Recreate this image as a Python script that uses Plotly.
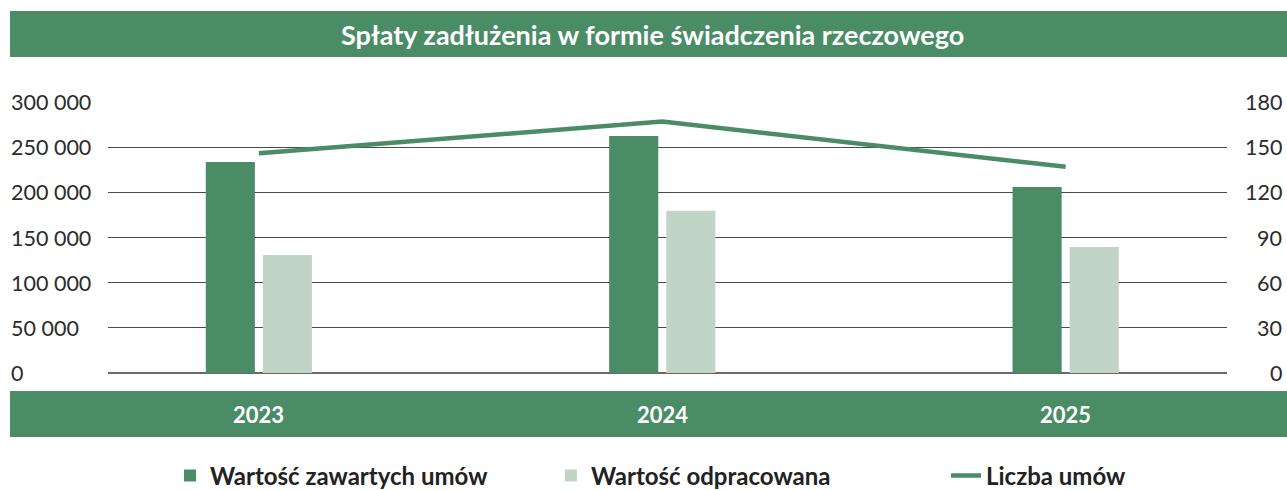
import plotly.graph_objects as go

years = ["2023", "2024", "2025"]
wartosc_zawartych = [233500, 262500, 206000]
wartosc_odpracowana = [130500, 179500, 139500]
liczba_umow = [146, 167, 137]

left_ticks = [0, 50000, 100000, 150000, 200000, 250000, 300000]
left_labels = ["0", "50 000", "100 000", "150 000", "200 000", "250 000", "300 000"]
right_ticks = [0, 30, 60, 90, 120, 150, 180]
right_labels = ["0", "30", "60", "90", "120", "150", "180"]

title_text = "Spłaty zadłużenia w formie świadczenia rzeczowego"

GREEN = "#4a8c66"
LIGHT = "#c2d4c8"
FONT = "Lato"

W, H = 1287, 490
L, R, T, B = 108, 60, 102, 117
pw = W - L - R
ph = H - T - B

def px_x(x):
    return (x - L) / pw

def px_y(y):
    return (H - B - y) / ph

fig = go.Figure()
fig.add_trace(go.Bar(x=years, y=wartosc_zawartych, name="Wartość zawartych umów",
                     marker=dict(color=GREEN, line=dict(width=0)), legend="legend"))
fig.add_trace(go.Bar(x=years, y=wartosc_odpracowana, name="Wartość odpracowana",
                     marker=dict(color=LIGHT, line=dict(width=0)), legend="legend"))
fig.add_trace(go.Scatter(x=years, y=liczba_umow, name="Liczba umów", mode="lines",
                         line=dict(color=GREEN, width=4.5), yaxis="y2", legend="legend2"))

shapes = [
    dict(type="rect", xref="paper", yref="paper", x0=px_x(10), x1=px_x(1295),
         y0=px_y(57), y1=px_y(11), fillcolor=GREEN, line=dict(width=0), layer="below"),
    dict(type="rect", xref="paper", yref="paper", x0=px_x(10), x1=px_x(1295),
         y0=px_y(437), y1=px_y(391), fillcolor=GREEN, line=dict(width=0), layer="below"),
]

annotations = [
    dict(text=title_text, xref="paper", yref="paper", x=px_x(652), y=px_y(34),
         showarrow=False, xanchor="center", yanchor="middle",
         font=dict(family=FONT, size=27, color="white", weight="bold")),
]
for v, t in zip(left_ticks, left_labels):
    annotations.append(dict(text=t, xref="paper", yref="y", x=px_x(9), y=v,
                            showarrow=False, xanchor="left", yanchor="middle",
                            font=dict(family=FONT, size=21.5, color="#2b2b2b")))
for v, t in zip(right_ticks, right_labels):
    annotations.append(dict(text=t, xref="paper", yref="y2", x=px_x(1284), y=v,
                            showarrow=False, xanchor="right", yanchor="middle",
                            font=dict(family=FONT, size=21.5, color="#2b2b2b")))
for i, yr in enumerate(years):
    annotations.append(dict(text=yr, xref="x", yref="paper", x=i, y=px_y(414),
                            showarrow=False, xanchor="center", yanchor="middle",
                            font=dict(family=FONT, size=22, color="white", weight="bold")))

legend_font = dict(family=FONT, size=24, color="#222222", weight="bold")

fig.update_layout(
    width=W, height=H,
    margin=dict(l=L, r=R, t=T, b=B, pad=0),
    paper_bgcolor="white", plot_bgcolor="white",
    barmode="group", bargap=0.717, bargroupgap=0.14,
    xaxis=dict(type="category", range=[-0.374, 2.4], showticklabels=False,
               showgrid=False, zeroline=False, showline=False, ticks=""),
    yaxis=dict(range=[0, 300000], tickvals=left_ticks, showticklabels=False,
               showgrid=True, gridcolor="#4a4a4a", gridwidth=1,
               zeroline=True, zerolinecolor="#6a6a6a", zerolinewidth=1.5, showline=False),
    yaxis2=dict(range=[0, 180], overlaying="y", side="right", showticklabels=False,
                showgrid=False, zeroline=False, showline=False),
    shapes=shapes,
    annotations=annotations,
    showlegend=True,
    legend=dict(orientation="h", xref="container", x=170 / W, xanchor="left",
                yref="container", y=(H - 476) / H, yanchor="middle",
                entrywidth=336, entrywidthmode="pixels",
                font=legend_font, traceorder="normal", itemwidth=30),
    legend2=dict(orientation="h", xref="container", x=946 / W, xanchor="left",
                 yref="container", y=(H - 476) / H, yanchor="middle",
                 font=legend_font, itemwidth=30),
)

fig.write_html("out.html", config={"displayModeBar": False},
               post_script="document.body.style.margin='0px';document.body.style.overflow='hidden';")
